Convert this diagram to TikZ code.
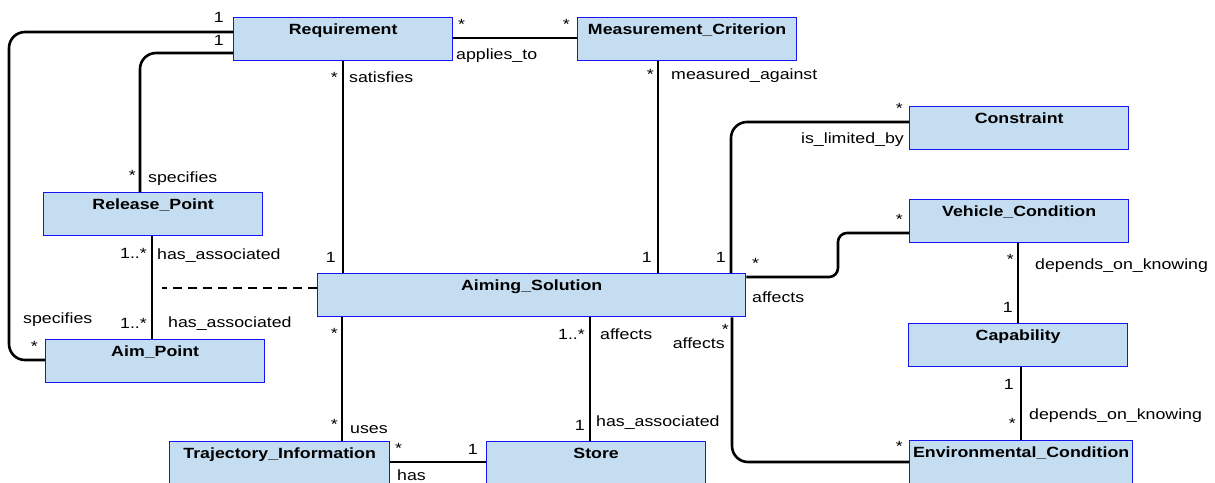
\documentclass[tikz,border=0pt]{standalone}
\usepackage{fontspec}
\setmainfont[FakeStretch=1.2]{Liberation Sans}
\definecolor{clsfill}{RGB}{197,221,241}
\definecolor{clsline}{RGB}{20,20,245}
\begin{document}
\begin{tikzpicture}[x=1pt,y=-1pt,
  cls/.style={draw=clsline, fill=clsfill, line width=1.3pt, rectangle,
    anchor=north west, minimum width=219pt, inner sep=0pt,
    text height=16.5pt, text depth=26.5pt,
    font=\fontsize{14.8}{17}\selectfont\bfseries},
  assoc/.style={line width=2.6pt, rounded corners=16pt},
  tx/.style={inner sep=0pt, font=\fontsize{14.8}{17}\selectfont},
  be/.style={tx, anchor=base east},
  bw/.style={tx, anchor=base west}]
\useasboundingbox (0,0) rectangle (1215,482);

% classes
\node[cls] (req) at (233,17) {Requirement};
\node[cls] (mc) at (577,17) {Measurement\_Criterion};
\node[cls] (con) at (909,106) {Constraint};
\node[cls] (veh) at (909,199) {Vehicle\_Condition};
\node[cls] (cap) at (908,323) {Capability};
\node[cls, minimum width=223pt] (env) at (909,440) {Environmental\_Condition};
\node[cls] (rel) at (43,192) {Release\_Point};
\node[cls] (aim) at (45,339) {Aim\_Point};
\node[cls, minimum width=428pt] (sol) at (317,273) {Aiming\_Solution};
\node[cls, minimum width=220pt] (traj) at (169,441) {Trajectory\_Information};
\node[cls] (store) at (486,441) {Store};

% associations
\draw[assoc] (req.west |- 0,53) -- (140,53) -- (rel.north -| 140,0);
\draw[assoc] (req.west |- 0,32) -- (9,32) -- (9,360) -- (aim.west |- 0,360);
\draw[assoc] (req.south -| 343,0) -- (sol.north -| 343,0);
\draw[assoc] (req.east |- 0,38) -- (mc.west |- 0,38);
\draw[assoc] (mc.south -| 658,0) -- (sol.north -| 658,0);
\draw[assoc] (sol.north -| 731,0) -- (731,122) -- (con.west |- 0,122);
\draw[assoc, rounded corners=9pt] (sol.east |- 0,277) -- (838,277) -- (838,233) -- (veh.west |- 0,233);
\draw[assoc] (veh.south -| 1018,0) -- (cap.north -| 1018,0);
\draw[assoc] (cap.south -| 1021,0) -- (env.north -| 1021,0);
\draw[assoc] (sol.south -| 732,0) -- (732,462) -- (env.west |- 0,462);
\draw[assoc] (sol.south -| 590,0) -- (store.north -| 590,0);
\draw[assoc] (sol.south -| 342,0) -- (traj.north -| 342,0);
\draw[assoc] (traj.east |- 0,462) -- (store.west |- 0,462);
\draw[assoc] (rel.south -| 152,0) -- (aim.north -| 152,0);
% association class link
\coordinate (acl) at (162,288);
\draw[line width=2.6pt, dash pattern=on 9pt off 6pt] (sol.west |- acl) -- (acl);

% role names and multiplicities
\node[be] (m1) at (224,22) {1};
\node[be] (m2) at (224,45) {1};
\node[be] (m3) at (338,82) {*};
\node[bw] (r1) at (349,82) {satisfies};
\node[bw] (m4) at (458,29) {*};
\node[be] (m5) at (570,29) {*};
\node[bw] (r2) at (456,59) {applies\_to};
\node[be] (m6) at (654,79) {*};
\node[bw] (r3) at (671,79) {measured\_against};
\node[be] (m7) at (336,262) {1};
\node[be] (m8) at (652,262) {1};
\node[be] (m9) at (726,262) {1};
\node[bw] (m10) at (752,268) {*};
\node[bw] (r4) at (752,302) {affects};
\node[be] (r5) at (904,143) {is\_limited\_by};
\node[be] (m11) at (903,113) {*};
\node[be] (m12) at (903,224) {*};
\node[be] (m13) at (1014,264) {*};
\node[bw] (r6) at (1035,269) {depends\_on\_knowing};
\node[be] (m14) at (1013,312) {1};
\node[be] (m15) at (1014,389) {1};
\node[be] (m16) at (1016,428) {*};
\node[bw] (r7) at (1029,419) {depends\_on\_knowing};
\node[be] (m17) at (903,451) {*};
\node[be] (m18) at (729,334) {*};
\node[be] (r8) at (725,348) {affects};
\node[be] (m19) at (585,339) {1..*};
\node[bw] (r9) at (600,339) {affects};
\node[be] (m20) at (585,430) {1};
\node[bw] (r10) at (596,426) {has\_associated};
\node[be] (m21) at (338,338) {*};
\node[be] (m22) at (338,429) {*};
\node[bw] (r11) at (350,433) {uses};
\node[bw] (m23) at (395,453) {*};
\node[be] (m24) at (478,454) {1};
\node[bw] (r12) at (397,480) {has};
\node[be] (m25) at (147,258) {1..*};
\node[bw] (r13) at (157,259) {has\_associated};
\node[be] (m26) at (147,328) {1..*};
\node[bw] (r14) at (168,327) {has\_associated};
\node[bw] (r15) at (23,323) {specifies};
\node[be] (m27) at (38,351) {*};
\node[be] (m28) at (136,180) {*};
\node[bw] (r16) at (148,182) {specifies};
\end{tikzpicture}
\end{document}
